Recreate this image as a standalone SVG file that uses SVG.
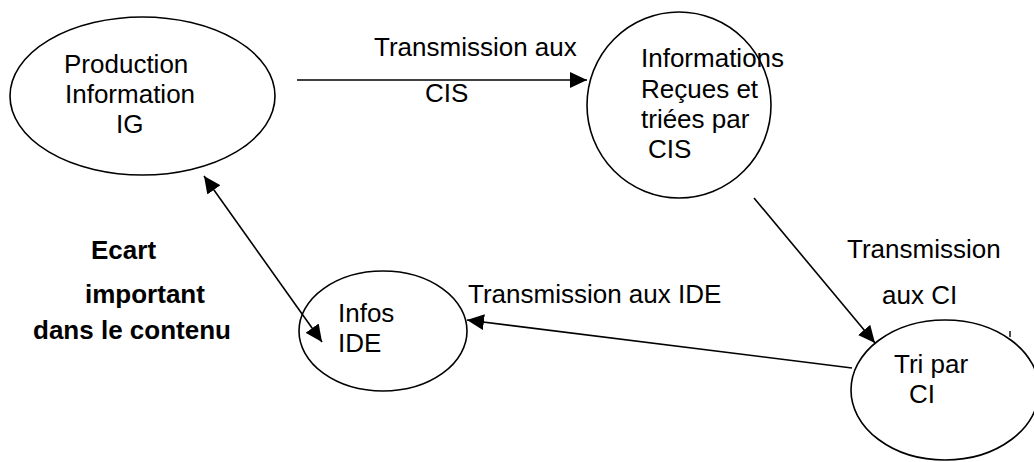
<svg xmlns="http://www.w3.org/2000/svg" width="1034" height="462" viewBox="0 0 1034 462">
  <style>
    .node ellipse { fill: #ffffff; stroke: #000000; stroke-width: 1.6; }
    .lbl { font-family: "Liberation Sans", Arial, sans-serif; font-size: 26px; fill: #000000; }
    .bold { font-weight: bold; }
    .edge { stroke: #000000; stroke-width: 1.6; fill: none; }
  </style>
  <defs>
    <marker id="arrow" markerUnits="userSpaceOnUse" markerWidth="18" markerHeight="16" refX="17" refY="8" orient="auto-start-reverse">
      <path d="M0,0 L17,8 L0,16 Z" fill="#000000"/>
    </marker>
  </defs>

  <rect width="1034" height="462" fill="#ffffff"/>

  <!-- nodes -->
  <g id="node-ig" class="node">
    <ellipse cx="142.5" cy="96" rx="132.5" ry="79"/>
    <text class="lbl" x="64" y="73">Production</text>
    <text class="lbl" x="65" y="103">Information</text>
    <text class="lbl" x="116" y="133">IG</text>
  </g>

  <g id="node-cis" class="node">
    <ellipse cx="679" cy="105" rx="92" ry="93"/>
    <text class="lbl" x="641" y="67">Informations</text>
    <text class="lbl" x="641" y="98">Reçues et</text>
    <text class="lbl" x="641" y="128">triées par</text>
    <text class="lbl" x="648" y="158">CIS</text>
  </g>

  <g id="node-ci" class="node">
    <ellipse cx="945" cy="390" rx="94" ry="70"/>
    <line x1="1010" y1="331" x2="1010" y2="337" stroke="#000000" stroke-width="1.4"/>
    <text class="lbl" x="894" y="373">Tri par</text>
    <text class="lbl" x="909" y="403">CI</text>
  </g>

  <g id="node-ide" class="node">
    <ellipse cx="383" cy="331" rx="84" ry="60"/>
    <text class="lbl" x="338" y="322">Infos</text>
    <text class="lbl" x="338" y="352">IDE</text>
  </g>

  <!-- connectors, drawn over the ellipses -->
  <g id="connectors">
    <line class="edge" x1="297" y1="80" x2="587" y2="80" marker-end="url(#arrow)"/>
    <line class="edge" x1="754" y1="198" x2="875" y2="343" marker-end="url(#arrow)"/>
    <line class="edge" x1="852" y1="368" x2="467" y2="320" marker-end="url(#arrow)"/>
    <line class="edge" x1="204" y1="176" x2="322" y2="342" marker-start="url(#arrow)" marker-end="url(#arrow)"/>
  </g>

  <!-- edge labels -->
  <g id="edge-labels">
    <text class="lbl" x="374" y="56">Transmission aux</text>
    <text class="lbl" x="425" y="102">CIS</text>
    <text class="lbl" x="847" y="258">Transmission</text>
    <text class="lbl" x="882" y="304">aux CI</text>
    <text class="lbl" x="468" y="303">Transmission aux IDE</text>
  </g>

  <!-- annotation -->
  <g id="note">
    <text class="lbl bold" x="91" y="259">Ecart</text>
    <text class="lbl bold" x="85" y="303">important</text>
    <text class="lbl bold" x="33" y="339">dans le contenu</text>
  </g>
</svg>
